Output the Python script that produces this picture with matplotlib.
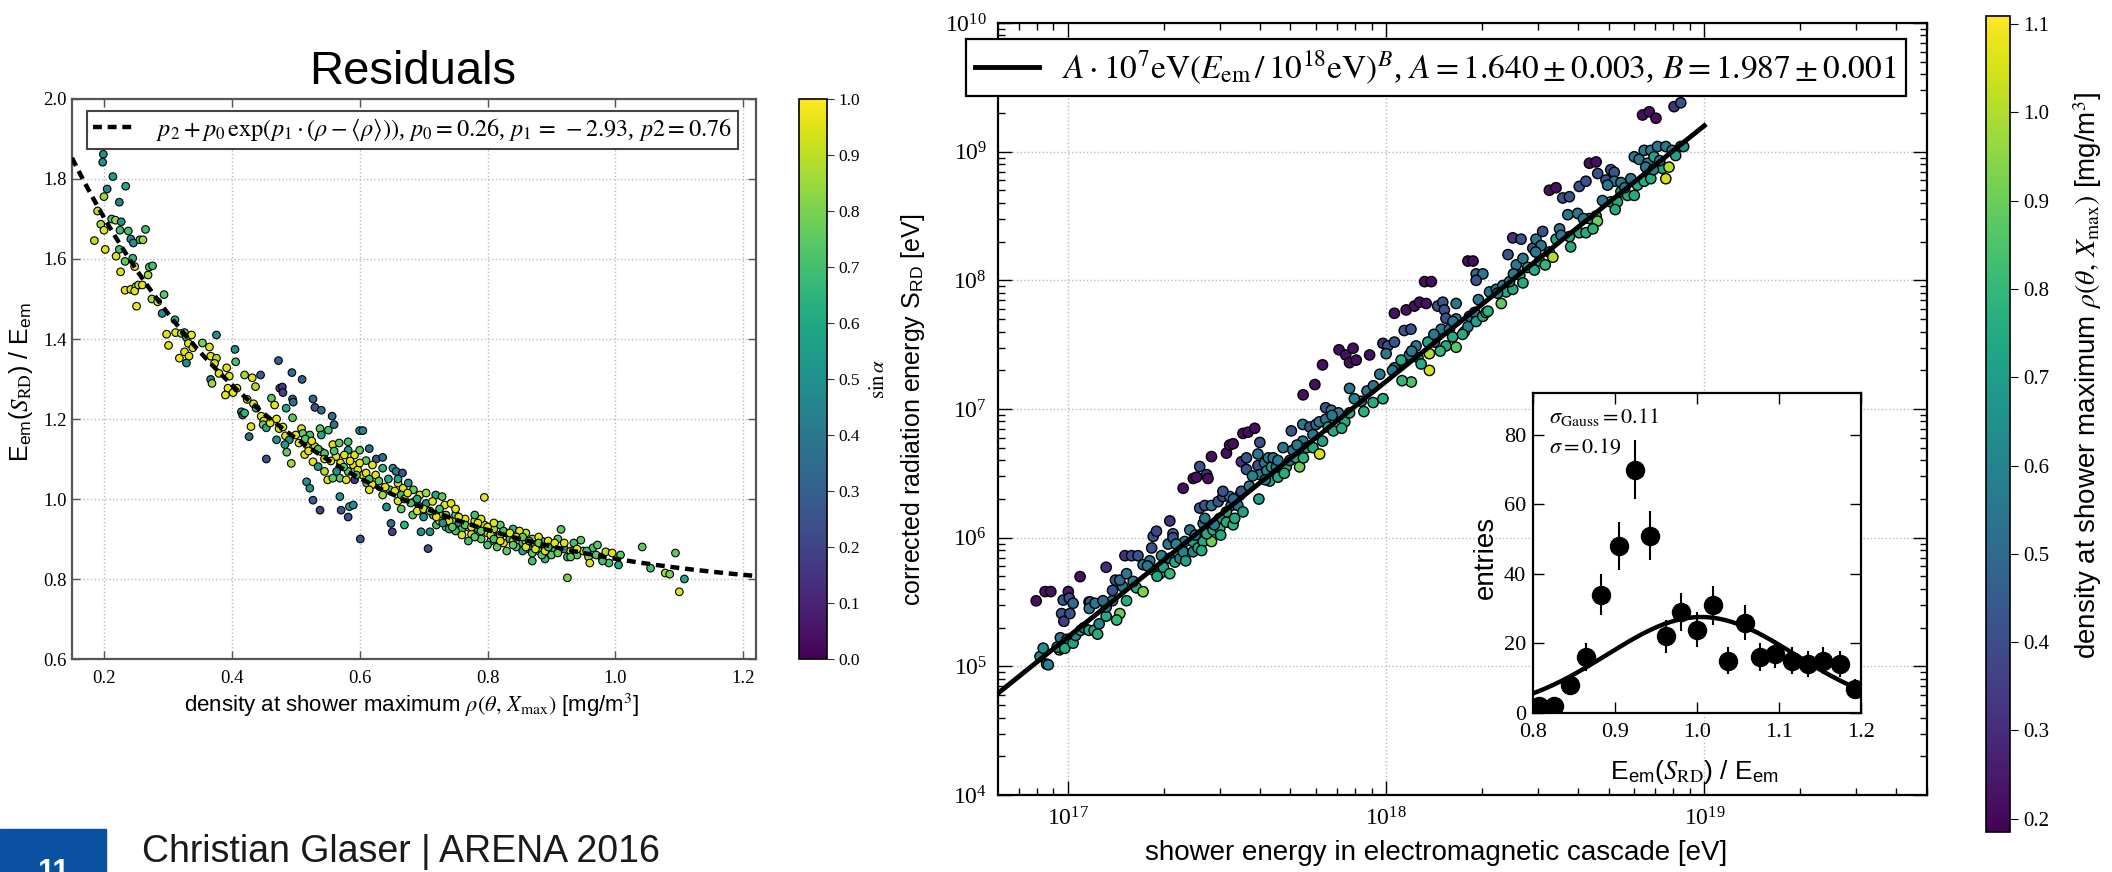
import numpy as np
import matplotlib
matplotlib.use("Agg")
import matplotlib.pyplot as plt
from matplotlib.ticker import LogLocator, FixedLocator, NullFormatter

# ---------------- data: residual plot (left) ----------------
rho = [0.199, 0.198, 0.214, 0.205, 0.234, 0.200, 0.224, 0.190, 0.212, 0.218, 0.195, 0.200, 0.227, 0.225,
       0.185, 0.202, 0.238, 0.242, 0.256, 0.265, 0.261, 0.246, 0.224, 0.219, 0.233, 0.245, 0.248, 0.226,
       0.271, 0.276, 0.269, 0.233, 0.242, 0.250, 0.248, 0.254, 0.260, 0.251, 0.275, 0.284, 0.294, 0.291,
       0.311, 0.298, 0.301, 0.312, 0.321, 0.326, 0.329, 0.337, 0.332, 0.339, 0.318, 0.326, 0.333, 0.329,
       0.354, 0.365, 0.376, 0.367, 0.376, 0.373, 0.367, 0.369, 0.380, 0.392, 0.405, 0.406, 0.396, 0.394,
       0.390, 0.402, 0.408, 0.420, 0.432, 0.437, 0.445, 0.424, 0.434, 0.438, 0.415, 0.417, 0.420, 0.430,
       0.427, 0.446, 0.450, 0.449, 0.454, 0.462, 0.467, 0.473, 0.475, 0.479, 0.480, 0.485, 0.494, 0.495,
       0.496, 0.510, 0.495, 0.474, 0.484, 0.490, 0.470, 0.483, 0.486, 0.493, 0.454, 0.527, 0.530, 0.540,
       0.557, 0.560, 0.509, 0.511, 0.522, 0.538, 0.551, 0.540, 0.517, 0.530, 0.540, 0.545, 0.514, 0.527,
       0.535, 0.558, 0.568, 0.582, 0.582, 0.563, 0.576, 0.592, 0.600, 0.600, 0.605, 0.615, 0.626, 0.636,
       0.610, 0.620, 0.636, 0.652, 0.657, 0.667, 0.590, 0.597, 0.605, 0.582, 0.564, 0.569, 0.579, 0.592,
       0.545, 0.550, 0.558, 0.517, 0.522, 0.527, 0.538, 0.569, 0.571, 0.582, 0.584, 0.590, 0.601, 0.611,
       0.620, 0.615, 0.631, 0.636, 0.647, 0.660, 0.668, 0.676, 0.684, 0.694, 0.686, 0.704, 0.719, 0.729,
       0.694, 0.704, 0.714, 0.733, 0.743, 0.795, 0.642, 0.649, 0.651, 0.670, 0.683, 0.696, 0.707, 0.710,
       0.720, 0.735, 0.745, 0.750, 0.755, 0.760, 0.765, 0.770, 0.775, 0.780, 0.785, 0.790, 0.795, 0.800,
       0.805, 0.810, 0.815, 0.820, 0.825, 0.830, 0.835, 0.840, 0.845, 0.850, 0.855, 0.860, 0.865, 0.870,
       0.875, 0.880, 0.885, 0.890, 0.895, 0.900, 0.905, 0.910, 0.915, 0.920, 0.925, 0.930, 0.935, 0.940,
       0.946, 0.950, 0.958, 0.965, 0.972, 0.978, 0.985, 0.990, 1.008, 1.005, 1.042, 1.055, 1.078, 1.085,
       1.094, 1.108, 1.100, 0.925, 0.870, 0.890, 0.730, 0.740, 0.780, 0.790, 0.800, 0.810, 0.815, 0.820,
       0.830, 0.840, 0.850, 0.855, 0.860, 0.870, 0.880, 0.885, 0.895, 0.900, 0.770, 0.760, 0.750, 0.715,
       0.725, 0.700, 0.690, 0.660, 0.665]
ratio = [1.862, 1.842, 1.806, 1.775, 1.782, 1.756, 1.742, 1.720, 1.700, 1.697, 1.687, 1.672, 1.693, 1.672,
         1.646, 1.624, 1.670, 1.650, 1.648, 1.674, 1.648, 1.640, 1.624, 1.607, 1.594, 1.602, 1.581, 1.568,
         1.580, 1.583, 1.560, 1.522, 1.524, 1.531, 1.520, 1.535, 1.535, 1.482, 1.500, 1.493, 1.511, 1.464,
         1.448, 1.412, 1.384, 1.416, 1.414, 1.416, 1.404, 1.410, 1.389, 1.378, 1.352, 1.368, 1.357, 1.340,
         1.390, 1.380, 1.410, 1.357, 1.352, 1.339, 1.299, 1.289, 1.314, 1.328, 1.374, 1.343, 1.307, 1.277,
         1.260, 1.266, 1.277, 1.310, 1.303, 1.281, 1.310, 1.249, 1.238, 1.227, 1.218, 1.210, 1.215, 1.181,
         1.156, 1.207, 1.195, 1.186, 1.178, 1.252, 1.235, 1.346, 1.277, 1.280, 1.266, 1.227, 1.316, 1.250,
         1.242, 1.299, 1.203, 1.176, 1.158, 1.148, 1.148, 1.136, 1.117, 1.089, 1.100, 1.250, 1.229, 1.222,
         1.207, 1.186, 1.176, 1.164, 1.160, 1.176, 1.172, 1.160, 1.136, 1.131, 1.118, 1.114, 1.111, 1.093,
         1.081, 1.136, 1.140, 1.143, 1.122, 1.106, 1.110, 1.110, 1.122, 1.171, 1.171, 1.126, 1.100, 1.104,
         1.096, 1.085, 1.077, 1.077, 1.069, 1.065, 1.085, 1.073, 1.060, 1.069, 1.069, 1.052, 1.048, 1.048,
         1.069, 1.048, 1.052, 1.043, 1.027, 0.997, 0.972, 1.006, 0.972, 0.955, 0.981, 0.985, 0.900, 1.040,
         1.036, 1.023, 1.031, 1.010, 1.023, 1.040, 1.027, 1.040, 1.023, 1.010, 0.994, 1.015, 1.010, 1.006,
         0.981, 0.989, 0.994, 0.985, 0.989, 1.004, 0.980, 0.939, 0.918, 0.935, 0.960, 0.918, 0.876, 0.918,
         0.935, 0.930, 0.945, 0.960, 0.940, 0.925, 0.950, 0.930, 0.912, 0.945, 0.925, 0.900, 0.935, 0.915,
         0.895, 0.925, 0.905, 0.935, 0.890, 0.915, 0.900, 0.925, 0.880, 0.905, 0.890, 0.915, 0.875, 0.900,
         0.885, 0.870, 0.895, 0.880, 0.860, 0.885, 0.870, 0.900, 0.924, 0.875, 0.855, 0.870, 0.890, 0.860,
         0.897, 0.870, 0.855, 0.878, 0.885, 0.855, 0.868, 0.840, 0.860, 0.835, 0.880, 0.827, 0.815, 0.812,
         0.865, 0.800, 0.768, 0.803, 0.845, 0.850, 0.960, 0.925, 0.905, 0.950, 0.885, 0.940, 0.880, 0.910,
         0.870, 0.895, 0.920, 0.870, 0.895, 0.865, 0.905, 0.860, 0.895, 0.860, 0.895, 0.910, 0.920, 0.960,
         0.945, 0.955, 0.970, 0.995, 0.975]
sin_alpha = [0.50, 0.50, 0.55, 0.45, 0.60, 0.85, 0.45, 0.90, 0.70, 0.85, 0.85, 0.95, 0.50, 0.70,
             0.90, 0.95, 0.70, 0.45, 0.70, 0.70, 0.85, 0.50, 0.70, 0.95, 0.75, 0.65, 0.97, 0.95,
             0.75, 0.70, 0.85, 0.95, 0.95, 0.97, 0.95, 0.90, 0.95, 0.97, 0.85, 0.95, 0.75, 0.50,
             0.65, 0.95, 0.95, 0.95, 0.88, 0.75, 0.65, 0.97, 0.95, 0.95, 0.97, 0.95, 0.95, 0.50,
             0.80, 0.95, 0.50, 0.95, 0.88, 0.95, 0.45, 0.85, 0.95, 0.95, 0.50, 0.70, 0.95, 0.97,
             0.95, 0.95, 0.97, 0.85, 0.95, 0.88, 0.30, 0.97, 0.95, 0.70, 0.50, 0.25, 0.65, 0.95,
             0.35, 0.95, 0.95, 0.75, 0.60, 0.75, 0.95, 0.30, 0.20, 0.15, 0.20, 0.60, 0.35, 0.30,
             0.35, 0.30, 0.75, 0.95, 0.95, 0.50, 0.50, 0.55, 0.75, 0.85, 0.25, 0.35, 0.25, 0.35,
             0.35, 0.40, 0.95, 0.75, 0.70, 0.75, 0.70, 0.60, 0.95, 0.95, 0.97, 0.75, 0.95, 0.95,
             0.50, 0.95, 0.75, 0.70, 0.55, 0.95, 0.95, 0.95, 0.75, 0.50, 0.45, 0.35, 0.25, 0.35,
             0.75, 0.95, 0.65, 0.50, 0.40, 0.25, 0.95, 0.95, 0.95, 0.75, 0.50, 0.75, 0.95, 0.15,
             0.88, 0.95, 0.75, 0.50, 0.50, 0.30, 0.20, 0.50, 0.25, 0.25, 0.55, 0.50, 0.25, 0.75,
             0.95, 0.95, 0.95, 0.85, 0.75, 0.95, 0.95, 0.50, 0.75, 0.95, 0.95, 0.85, 0.60, 0.75,
             0.50, 0.50, 0.95, 0.95, 0.95, 0.97, 0.50, 0.35, 0.20, 0.65, 0.75, 0.50, 0.25, 0.50,
             0.70, 0.75, 0.95, 0.75, 0.45, 0.70, 0.95, 0.90, 0.95, 0.95, 0.60, 0.75, 0.95, 0.95,
             0.75, 0.85, 0.60, 0.75, 0.95, 0.95, 0.70, 0.65, 0.75, 0.95, 0.70, 0.90, 0.50, 0.85,
             0.95, 0.75, 0.70, 0.50, 0.65, 0.95, 0.70, 0.75, 0.75, 0.50, 0.70, 0.95, 0.70, 0.75,
             0.75, 0.95, 0.85, 0.70, 0.75, 0.75, 0.88, 0.70, 0.75, 0.60, 0.75, 0.70, 0.85, 0.80,
             0.75, 0.60, 0.95, 0.80, 0.70, 0.65, 0.95, 0.60, 0.75, 0.95, 0.70, 0.95, 0.75, 0.95,
             0.75, 0.95, 0.95, 0.60, 0.95, 0.75, 0.95, 0.75, 0.95, 0.75, 0.70, 0.95, 0.70, 0.70,
             0.95, 0.50, 0.95, 0.95, 0.75]

# extra points of the dense band between rho = 0.45 and 1.0
rho_band = [0.460, 0.470, 0.480, 0.500, 0.505, 0.515, 0.520, 0.525, 0.535, 0.545, 0.555, 0.560, 0.570, 0.575,
            0.585, 0.595, 0.600, 0.610, 0.615, 0.625, 0.630, 0.640, 0.645, 0.655, 0.665, 0.670, 0.675, 0.680,
            0.690, 0.700, 0.710, 0.720, 0.725, 0.735, 0.740, 0.745, 0.755, 0.765, 0.775, 0.785, 0.790, 0.800,
            0.805, 0.810, 0.820, 0.825, 0.835, 0.840, 0.845, 0.855, 0.860, 0.865, 0.875, 0.880, 0.890, 0.895,
            0.905, 0.910, 0.920, 0.930, 0.940, 0.955, 0.960, 0.970, 0.980, 0.995, 0.750, 0.780, 0.730, 0.660]
ratio_band = [1.190, 1.200, 1.180, 1.160, 1.140, 1.150, 1.120, 1.145, 1.125, 1.100, 1.095, 1.120, 1.090, 1.080,
              1.095, 1.060, 1.090, 1.065, 1.050, 1.060, 1.045, 1.030, 1.050, 1.020, 1.010, 1.000, 1.015, 0.990,
              1.000, 0.975, 0.970, 0.955, 0.975, 0.960, 0.945, 0.930, 0.955, 0.935, 0.930, 0.940, 0.920, 0.930,
              0.910, 0.900, 0.895, 0.920, 0.915, 0.885, 0.905, 0.905, 0.880, 0.895, 0.875, 0.890, 0.870, 0.880,
              0.890, 0.865, 0.890, 0.855, 0.875, 0.870, 0.840, 0.860, 0.845, 0.865, 0.975, 0.960, 0.940, 1.050]
sin_alpha_band = [0.95, 0.97, 0.95, 0.95, 0.97, 0.75, 0.95, 0.95, 0.70, 0.95, 0.95, 0.70, 0.95, 0.75,
                  0.95, 0.70, 0.95, 0.95, 0.70, 0.95, 0.75, 0.95, 0.60, 0.95, 0.70, 0.95, 0.95, 0.70,
                  0.60, 0.95, 0.75, 0.95, 0.70, 0.75, 0.95, 0.75, 0.95, 0.75, 0.95, 0.95, 0.75, 0.95,
                  0.95, 0.70, 0.95, 0.70, 0.95, 0.75, 0.95, 0.75, 0.95, 0.70, 0.95, 0.75, 0.95, 0.70,
                  0.95, 0.75, 0.95, 0.75, 0.95, 0.70, 0.95, 0.75, 0.70, 0.95, 0.95, 0.70, 0.50, 0.60]

# fit of the residuals
p0, p1, p2 = 0.26, -2.93, 0.76
rho_mean = 0.64

# ---------------- data: radiation energy vs shower energy (right) ----------------
log_E = [16.900, 16.928, 16.946, 16.912, 16.933, 16.938, 16.922, 16.973, 16.980, 16.985, 17.001, 17.004, 16.980, 16.987,
         17.006, 17.016, 16.976, 16.997, 16.966, 16.990, 17.016, 17.024, 17.038, 17.040, 17.050, 17.066, 17.070, 17.067,
         17.085, 17.066, 17.082, 17.098, 17.093, 17.120, 17.120, 17.140, 17.110, 17.140, 17.120, 17.163, 17.153, 17.149,
         17.172, 17.163, 17.184, 17.184, 17.215, 17.236, 17.205, 17.179, 17.200, 17.220, 17.236, 17.263, 17.268, 17.278,
         17.257, 17.273, 17.289, 17.300, 17.320, 17.294, 17.320, 17.315, 17.330, 17.336, 17.352, 17.357, 17.320, 17.330,
         17.367, 17.362, 17.383, 17.393, 17.393, 17.409, 17.425, 17.451, 17.436, 17.456, 17.477, 17.425, 17.430, 17.414,
         17.430, 17.451, 17.472, 17.487, 17.508, 17.513, 17.498, 17.477, 17.498, 17.519, 17.524, 17.534, 17.540, 17.545,
         17.487, 17.414, 17.436, 17.362, 17.394, 17.404, 17.440, 17.451, 17.498, 17.508, 17.519, 17.545, 17.561, 17.561,
         17.550, 17.566, 17.587, 17.603, 17.597, 17.597, 17.603, 17.580, 17.618, 17.630, 17.625, 17.640, 17.634, 17.655,
         17.645, 17.660, 17.686, 17.697, 17.702, 17.676, 17.707, 17.717, 17.728, 17.738, 17.750, 17.770, 17.791, 17.738,
         17.760, 17.780, 17.790, 17.810, 17.818, 17.834, 17.810, 17.828, 17.850, 17.870, 17.739, 17.776, 17.800, 17.852,
         17.873, 17.885, 17.896, 17.906, 17.948, 17.885, 17.885, 17.922, 17.959, 17.940, 17.990, 18.005, 18.026, 18.000,
         18.026, 17.980, 18.052, 18.073, 18.094, 18.057, 18.078, 18.026, 18.063, 18.089, 18.105, 18.126, 18.047, 18.079,
         18.100, 18.136, 18.136, 18.152, 18.131, 18.162, 18.178, 18.183, 18.188, 18.121, 18.142, 18.173, 18.199, 18.220,
         18.209, 18.220, 18.188, 18.220, 18.246, 18.257, 18.262, 18.278, 18.283, 18.304, 18.314, 18.283, 18.304, 18.283,
         18.257, 18.273, 18.325, 18.346, 18.367, 18.362, 18.377, 18.398, 18.388, 18.383, 18.398, 18.424, 18.409, 18.430,
         18.420, 18.445, 18.461, 18.471, 18.487, 18.492, 18.466, 18.482, 18.513, 18.524, 18.534, 18.545, 18.513, 18.534,
         18.555, 18.576, 18.607, 18.628, 18.571, 18.602, 18.607, 18.628, 18.576, 18.639, 18.660, 18.664, 18.639, 18.660,
         18.665, 18.691, 18.706, 18.717, 18.717, 18.738, 18.696, 18.706, 18.727, 18.738, 18.759, 18.769, 18.780, 18.795,
         18.806, 18.827, 18.848, 18.905, 18.926, 18.811, 18.832, 18.853, 18.879, 18.899, 18.926, 18.822, 18.842, 18.790,
         18.811, 18.832, 18.868, 18.889, 18.879, 18.816]
log_S = [5.509, 5.581, 5.581, 5.076, 5.017, 5.012, 5.141, 5.128, 5.141, 5.515, 5.581, 5.530, 5.410, 5.350,
         5.410, 5.490, 5.222, 5.210, 5.150, 5.140, 5.180, 5.240, 5.697, 5.280, 5.300, 5.500, 5.500, 5.450,
         5.490, 5.280, 5.280, 5.330, 5.250, 5.390, 5.460, 5.510, 5.510, 5.590, 5.770, 5.410, 5.360, 5.670,
         5.620, 5.670, 5.720, 5.510, 5.610, 5.580, 5.660, 5.860, 5.860, 5.860, 5.790, 5.920, 6.010, 6.050,
         5.820, 5.740, 5.720, 5.770, 5.720, 5.860, 5.840, 5.950, 6.030, 5.810, 5.840, 5.920, 6.130, 6.000,
         5.970, 5.890, 6.060, 5.970, 5.890, 5.920, 5.970, 5.970, 6.030, 6.060, 6.070, 6.110, 6.150, 6.230,
         6.250, 6.250, 6.280, 6.320, 6.320, 6.250, 6.200, 6.150, 6.120, 6.100, 6.150, 6.250, 6.330, 6.360,
         6.360, 6.553, 6.490, 6.384, 6.460, 6.470, 6.460, 6.630, 6.657, 6.720, 6.730, 6.590, 6.620, 6.530,
         6.810, 6.820, 6.850, 6.740, 6.650, 6.560, 6.490, 6.480, 6.580, 6.620, 6.520, 6.550, 6.440, 6.550,
         6.620, 6.470, 6.550, 6.600, 6.830, 6.700, 6.680, 6.620, 6.550, 6.750, 6.700, 6.700, 6.650, 6.880,
         6.860, 6.880, 6.900, 6.920, 6.860, 6.830, 7.010, 6.990, 6.970, 6.900, 7.110, 7.190, 7.343, 7.460,
         7.420, 7.360, 7.472, 7.380, 7.420, 7.160, 6.970, 7.060, 7.050, 7.140, 7.510, 7.490, 7.520, 7.430,
         7.320, 7.270, 7.360, 7.420, 7.490, 7.610, 7.620, 7.744, 7.770, 7.800, 7.830, 7.820, 7.380, 7.210,
         7.400, 7.430, 7.300, 7.520, 7.520, 7.800, 7.830, 7.770, 7.705, 7.990, 7.990, 7.620, 7.620, 7.700,
         7.560, 7.480, 7.490, 7.820, 7.600, 7.640, 7.720, 7.750, 7.680, 7.720, 7.750, 8.050, 8.050, 8.000,
         8.150, 8.150, 7.910, 7.930, 7.960, 7.820, 7.910, 7.930, 7.990, 8.200, 8.330, 8.320, 8.120, 8.170,
         8.040, 8.100, 8.250, 8.320, 8.270, 8.380, 8.080, 8.150, 8.220, 8.180, 8.320, 8.400, 8.700, 8.720,
         8.640, 8.650, 8.730, 8.770, 8.510, 8.520, 8.370, 8.370, 8.340, 8.480, 8.500, 8.460, 8.910, 8.920,
         8.830, 8.780, 8.860, 8.840, 8.770, 8.760, 8.740, 8.610, 8.610, 8.690, 8.660, 8.790, 8.960, 8.940,
         9.285, 9.310, 9.260, 9.350, 9.380, 9.010, 9.010, 9.040, 9.040, 9.010, 9.040, 8.910, 8.960, 8.740,
         8.770, 8.790, 8.870, 8.880, 8.790, 8.880]
density = [0.22, 0.22, 0.22, 0.60, 0.70, 0.60, 0.65, 0.75, 0.60, 0.42, 0.25, 0.40, 0.42, 0.35,
           0.42, 0.50, 0.55, 0.60, 0.70, 0.75, 0.72, 0.60, 0.22, 0.75, 0.60, 0.55, 0.45, 0.55,
           0.55, 0.75, 0.72, 0.60, 0.75, 0.75, 0.55, 0.55, 0.50, 0.42, 0.30, 0.90, 0.80, 0.42,
           0.55, 0.50, 0.55, 0.75, 0.75, 0.92, 0.60, 0.32, 0.40, 0.42, 0.55, 0.42, 0.42, 0.38,
           0.55, 0.75, 0.78, 0.72, 0.80, 0.60, 0.55, 0.55, 0.50, 0.75, 0.60, 0.55, 0.32, 0.42,
           0.55, 0.60, 0.55, 0.72, 0.60, 0.75, 0.75, 0.90, 0.75, 0.75, 0.80, 0.55, 0.55, 0.42,
           0.42, 0.55, 0.42, 0.42, 0.55, 0.55, 0.75, 0.72, 0.75, 0.78, 0.75, 0.55, 0.55, 0.42,
           0.42, 0.42, 0.32, 0.22, 0.22, 0.22, 0.22, 0.22, 0.22, 0.22, 0.22, 0.32, 0.42, 0.42,
           0.22, 0.22, 0.22, 0.42, 0.55, 0.42, 0.55, 0.60, 0.55, 0.55, 0.60, 0.70, 0.75, 0.55,
           0.55, 0.75, 0.75, 0.55, 0.42, 0.55, 0.55, 0.72, 0.90, 0.55, 0.72, 0.75, 1.05, 0.55,
           0.42, 0.55, 0.55, 0.55, 0.72, 0.75, 0.42, 0.55, 0.55, 0.75, 0.22, 0.22, 0.22, 0.22,
           0.22, 0.22, 0.22, 0.22, 0.22, 0.55, 0.75, 0.55, 0.75, 0.55, 0.30, 0.42, 0.42, 0.55,
           0.55, 0.55, 0.55, 0.55, 0.55, 0.42, 0.42, 0.22, 0.22, 0.22, 0.22, 0.22, 0.75, 0.85,
           0.75, 1.00, 1.05, 0.55, 0.72, 0.42, 0.42, 0.42, 0.42, 0.22, 0.22, 0.55, 0.55, 0.55,
           0.75, 0.88, 0.75, 0.55, 0.75, 0.60, 0.55, 0.55, 0.72, 0.75, 0.75, 0.50, 0.55, 0.42,
           0.22, 0.22, 0.55, 0.55, 0.55, 0.88, 0.75, 0.75, 0.60, 0.42, 0.32, 0.42, 0.55, 0.55,
           0.75, 0.75, 0.42, 0.55, 0.55, 0.42, 0.75, 0.72, 0.75, 1.00, 0.72, 0.55, 0.22, 0.22,
           0.42, 0.42, 0.42, 0.42, 0.55, 0.55, 0.75, 0.75, 0.75, 0.72, 0.75, 0.90, 0.22, 0.22,
           0.42, 0.42, 0.42, 0.42, 0.55, 0.55, 0.55, 0.75, 0.75, 0.75, 0.75, 0.55, 0.55, 0.55,
           0.22, 0.22, 0.22, 0.32, 0.42, 0.55, 0.55, 0.55, 0.55, 0.55, 0.72, 0.60, 0.72, 0.75,
           0.75, 0.75, 0.75, 1.00, 1.05, 0.55]

# extra points of the dense band along the fit line
log_E_band = [17.25, 17.28, 17.34, 17.37, 17.40, 17.42, 17.46, 17.48, 17.52, 17.55, 17.57, 17.60, 17.62,
              17.66, 17.68, 17.72, 17.74, 17.77, 17.80, 17.83, 17.86, 17.90, 17.93, 17.96, 17.99, 18.02,
              18.05, 18.08, 18.11, 18.15, 18.17, 18.21, 18.24, 18.29, 18.32, 18.35, 18.40, 18.43, 18.47,
              18.50, 18.55, 18.58, 18.62, 18.65, 18.68, 18.72, 18.75, 18.78, 18.84, 18.86, 18.91, 18.935]
log_S_band = [5.78, 5.70, 5.95, 5.82, 6.02, 5.90, 6.10, 6.02, 6.30, 6.20, 6.40, 6.30, 6.45,
              6.60, 6.50, 6.72, 6.62, 6.80, 6.75, 6.95, 6.85, 7.08, 6.98, 7.18, 7.08, 7.30,
              7.22, 7.45, 7.35, 7.58, 7.45, 7.68, 7.58, 7.85, 7.76, 7.90, 8.05, 7.98, 8.22,
              8.12, 8.35, 8.26, 8.48, 8.40, 8.62, 8.55, 8.72, 8.66, 8.86, 8.93, 8.97, 9.04]
density_band = [0.55, 0.75, 0.60, 0.72, 0.55, 0.75, 0.55, 0.75, 0.50, 0.72, 0.55, 0.72, 0.60,
                0.55, 0.75, 0.55, 0.78, 0.55, 0.72, 0.55, 0.75, 0.60, 0.78, 0.55, 0.75, 0.55,
                0.80, 0.55, 0.75, 0.55, 0.80, 0.55, 0.75, 0.55, 0.78, 0.60, 0.55, 0.75, 0.55,
                0.80, 0.55, 0.75, 0.55, 0.78, 0.55, 0.75, 0.55, 0.75, 0.60, 0.55, 0.72, 0.65]

# radiation energy fit  A * 1e7 eV * (E / 1e18 eV)^B
fit_A, fit_B = 1.640, 1.987

# ---------------- data: inset histogram ----------------
hist_x = [0.807, 0.826, 0.845, 0.865, 0.883, 0.905, 0.924, 0.943, 0.962, 0.981, 1.000,
          1.019, 1.038, 1.058, 1.077, 1.095, 1.116, 1.135, 1.154, 1.174, 1.193]
hist_n = [2, 2, 8, 16, 34, 48, 70, 51, 22, 29, 24, 31, 15, 26, 16, 17, 15, 14, 15, 14, 7]
gauss_amp, gauss_mu, gauss_sigma = 27.6, 1.005, 0.115

# ---------------- figure ----------------
W, H = 2112, 872
plt.rcParams['font.family'] = 'serif'
plt.rcParams['font.serif'] = ['Liberation Serif', 'DejaVu Serif']
plt.rcParams['mathtext.fontset'] = 'stix'

SANS = 'Liberation Sans'


def box(x0, y0, x1, y1):
    # pixel box (top-left origin) -> figure fraction
    return [x0 / W, 1 - y1 / H, (x1 - x0) / W, (y1 - y0) / H]


fig = plt.figure(figsize=(W / 100, H / 100), dpi=100)
fig.patch.set_facecolor('white')

# ---- left: residuals ----
ax1 = fig.add_axes(box(72, 99, 756, 659))
sc1 = ax1.scatter(rho + rho_band, ratio + ratio_band, c=sin_alpha + sin_alpha_band,
                  cmap='viridis', vmin=0, vmax=1,
                  s=30, edgecolors='black', linewidths=0.8, zorder=3)
rr = np.linspace(0.15, 1.22, 300)
ax1.plot(rr, p2 + p0 * np.exp(p1 * (rr - rho_mean)), color='black', lw=3.2,
         ls=(0, (2, 1.3)), zorder=4,
         label=r'$p_2 + p_0\,\exp(p_1\cdot(\rho-\langle\rho\rangle))$, $p_0 = 0.26$, '
               r'$p_1\, =\, -2.93$, $p2 = 0.76$')
ax1.set_xlim(0.15, 1.22)
ax1.set_ylim(0.6, 2.0)
ax1.set_xticks([0.2, 0.4, 0.6, 0.8, 1.0, 1.2])
ax1.set_yticks([0.6, 0.8, 1.0, 1.2, 1.4, 1.6, 1.8, 2.0])
ax1.set_xticklabels(['0.2', '0.4', '0.6', '0.8', '1.0', '1.2'])
ax1.set_yticklabels(['0.6', '0.8', '1.0', '1.2', '1.4', '1.6', '1.8', '2.0'])
ax1.tick_params(direction='in', top=True, right=True, length=6, width=1,
                labelsize=13.5, color='#555555')
ax1.tick_params(axis='x', pad=8)
ax1.tick_params(axis='y', pad=4)
ax1.grid(True, ls=':', color='#bbbbbb', lw=1)
for s in ax1.spines.values():
    s.set_color('#555555')
    s.set_linewidth(1.6)
ax1.set_xlabel(r'density at shower maximum $\rho(\theta,\, X_{\rm max})$ [mg/m$^3$]',
               family=SANS, fontsize=16, va='center')
ax1.xaxis.set_label_coords(0.497, -0.082)
ax1.set_ylabel(r'E$_\mathregular{em}$($S_{\rm RD}$) / E$_\mathregular{em}$', family=SANS,
               fontsize=18, va='center')
ax1.yaxis.set_label_coords(-0.075, 0.495)
leg1 = ax1.legend(loc='upper left', bbox_to_anchor=(0.022, 0.979), borderaxespad=0,
                  fancybox=False, fontsize=17.5, handlelength=1.7, handletextpad=0.9,
                  framealpha=1, borderpad=0.25)
leg1.get_frame().set_edgecolor('#444444')
leg1.get_frame().set_linewidth(1.5)

cax1 = fig.add_axes(box(799, 99, 827, 659))
cb1 = fig.colorbar(sc1, cax=cax1)
cb1.set_ticks(np.round(np.arange(0, 1.01, 0.1), 1))
cb1.ax.tick_params(labelsize=12.5, length=5, color='#333333')
cb1.outline.set_linewidth(1.2)
cb1.set_label(r'$\sin\alpha$', fontsize=15, va='center')
cb1.ax.yaxis.set_label_coords(2.87, 0.5)

fig.text(413 / W, 1 - 72 / H, 'Residuals', family=SANS, fontsize=34,
         ha='center', va='center')

# ---- right: radiation energy ----
ax2 = fig.add_axes(box(998, 23, 1927, 795))
E = 10 ** np.array(log_E + log_E_band)
S = 10 ** np.array(log_S + log_S_band)
sc2 = ax2.scatter(E, S, c=density + density_band, cmap='viridis', vmin=0.185, vmax=1.109,
                  s=55, edgecolors='black', linewidths=1.0, zorder=3)
ee = np.logspace(16.78, 19.0, 200)
ax2.plot(ee, fit_A * 1e7 * (ee / 1e18) ** fit_B, color='black', lw=3.5, zorder=4,
         label=r'$A\cdot10^7\mathrm{eV}(E_{\mathrm{em}}\,/\,10^{18}\mathrm{eV})^B$, '
               r'$A = 1.640\pm0.003$, $B = 1.987\pm0.001$')
ax2.set_xscale('log')
ax2.set_yscale('log')
ax2.set_xlim(10 ** 16.78, 10 ** 19.70)
ax2.set_ylim(1e4, 1e10)
ax2.xaxis.set_major_locator(FixedLocator([1e17, 1e18, 1e19]))
ax2.yaxis.set_major_locator(LogLocator(base=10, numticks=12))
ax2.xaxis.set_minor_locator(LogLocator(base=10, subs=np.arange(2, 10), numticks=12))
ax2.yaxis.set_minor_locator(LogLocator(base=10, subs=np.arange(2, 10), numticks=12))
ax2.xaxis.set_minor_formatter(NullFormatter())
ax2.yaxis.set_minor_formatter(NullFormatter())
ax2.tick_params(which='major', direction='in', top=True, right=True, length=10, width=1,
                labelsize=17)
ax2.tick_params(which='minor', direction='in', top=True, right=True, length=5, width=1)
ax2.tick_params(axis='x', which='major', pad=9)
ax2.tick_params(axis='y', which='major', pad=8)
ax2.grid(True, which='major', ls=':', color='#bbbbbb', lw=1)
for s in ax2.spines.values():
    s.set_linewidth(1.6)
ax2.set_xlabel('shower energy in electromagnetic cascade [eV]', family=SANS,
               fontsize=20, va='center')
ax2.xaxis.set_label_coords(0.4715, -0.075)
ax2.set_ylabel(r'corrected radiation energy $\mathregular{S}_\mathregular{RD}$ [eV]',
               family=SANS, fontsize=18, va='center')
ax2.yaxis.set_label_coords(-0.0915, 0.499)
leg2 = ax2.legend(loc='upper left', bbox_to_anchor=(-0.0344, 0.979), borderaxespad=0,
                  fancybox=False, fontsize=24, handlelength=1.9, handletextpad=0.7,
                  framealpha=1, borderpad=0.28)
leg2.get_frame().set_edgecolor('black')
leg2.get_frame().set_linewidth(1.6)

cax2 = fig.add_axes(box(1986, 16, 2010, 832))
cb2 = fig.colorbar(sc2, cax=cax2)
cb2.set_ticks(np.round(np.arange(0.2, 1.11, 0.1), 1))
cb2.ax.tick_params(labelsize=15, length=6)
cb2.outline.set_linewidth(1.2)
cb2.set_label(r'density at shower maximum $\rho(\theta,\, X_{\rm max})$ [mg/m$^3$]',
              family=SANS, fontsize=20, va='center')
cb2.ax.yaxis.set_label_coords(4.25, 0.56)

# ---- inset histogram ----
ax3 = fig.add_axes(box(1533, 393, 1861, 713))
ax3.errorbar(hist_x, hist_n, yerr=np.sqrt(hist_n), fmt='o', color='black',
             ms=13, elinewidth=1.5, capsize=0, zorder=3)
gx = np.linspace(0.8, 1.2, 200)
ax3.plot(gx, gauss_amp * np.exp(-0.5 * ((gx - gauss_mu) / gauss_sigma) ** 2),
         color='black', lw=3.2, zorder=2)
ax3.set_xlim(0.8, 1.2)
ax3.set_ylim(0, 92)
ax3.set_xticks([0.8, 0.9, 1.0, 1.1, 1.2])
ax3.set_xticklabels(['0.8', '0.9', '1.0', '1.1', '1.2'])
ax3.set_yticks([0, 20, 40, 60, 80])
ax3.tick_params(direction='in', top=True, right=True, length=8, width=1, labelsize=16)
ax3.tick_params(axis='x', pad=7)
ax3.tick_params(axis='y', pad=5)
for s in ax3.spines.values():
    s.set_linewidth(1.6)
ax3.text(0.05, 0.925, r'$\sigma_{\rm Gauss} = 0.11$', transform=ax3.transAxes,
         fontsize=16, va='center', ha='left')
ax3.text(0.05, 0.828, r'$\sigma = 0.19$', transform=ax3.transAxes,
         fontsize=16, va='center', ha='left')
ax3.set_ylabel('entries', family=SANS, fontsize=20, va='center')
ax3.yaxis.set_label_coords(-0.143, 0.4875)
ax3.set_xlabel(r'E$_\mathregular{em}$($S_{\rm RD}$) / E$_\mathregular{em}$', family=SANS,
               fontsize=19, va='center')
ax3.xaxis.set_label_coords(0.491, -0.184)

# ---- slide footer ----
fig.add_artist(plt.Rectangle((0, 0), 106 / W, 43 / H, transform=fig.transFigure,
                             color='#0a52a1', zorder=0))
fig.text(53 / W, 1 - 858 / H, '11', family=SANS, fontsize=22, fontweight='bold',
         color='white', ha='center', va='top')
fig.text(142 / W, 1 - 862 / H, 'Christian Glaser | ARENA 2016', family=SANS,
         fontsize=27, color='#1a1a1a', ha='left', va='baseline')

fig.savefig('out.png', dpi=100)
